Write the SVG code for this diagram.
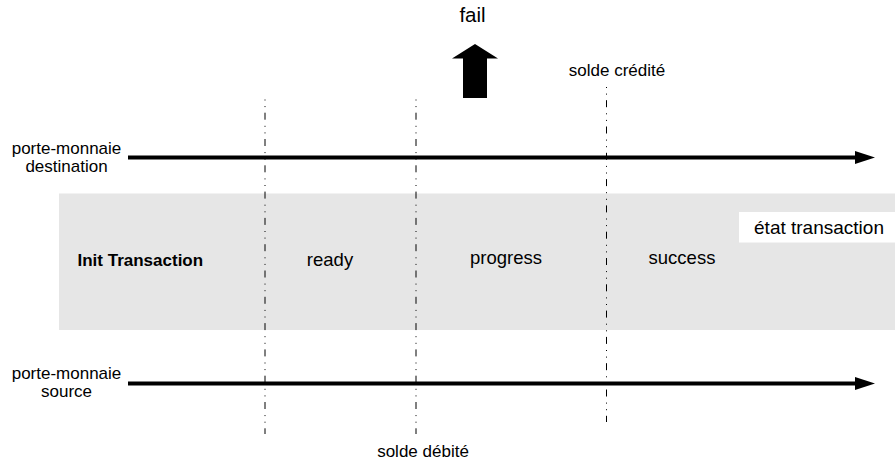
<svg xmlns="http://www.w3.org/2000/svg" width="895" height="463" viewBox="0 0 895 463">
  <style>
    text { font-family: "Liberation Sans", Arial, sans-serif; fill: #000; }
    .lbl { font-size: 17px; text-anchor: middle; }
    .state { font-size: 18.5px; text-anchor: middle; }
    .bold { font-size: 17px; font-weight: bold; }
    .vline { stroke: #000; stroke-width: 1; fill: none; stroke-dasharray: 1 5.6 1 5.6 7 6.1; }
    .timeline { stroke: #000; stroke-width: 4; fill: none; marker-end: url(#head); }
  </style>
  <defs>
    <marker id="head" markerUnits="userSpaceOnUse" markerWidth="20" markerHeight="14" refX="0" refY="7" orient="auto" viewBox="0 0 20 14">
      <polygon points="0,0.5 20,7 0,13.5" fill="#000"/>
    </marker>
  </defs>
  <rect width="895" height="463" fill="#fff"/>

  <g id="band">
    <rect x="59" y="193.5" width="836" height="136.5" fill="#e6e6e6"/>
  </g>

  <g id="connectors">
    <line class="vline" x1="265" y1="99.5" x2="265" y2="434"/>
    <line class="vline" x1="416" y1="99.5" x2="416" y2="434"/>
    <line class="vline" x1="606.5" y1="87" x2="606.5" y2="422"/>
    <line class="timeline" x1="128" y1="157.5" x2="855" y2="157.5"/>
    <line class="timeline" x1="128" y1="383.5" x2="855" y2="383.5"/>
  </g>

  <g id="fail">
    <text x="472.5" y="22" font-size="20.5" text-anchor="middle">fail</text>
    <polygon points="475,44 498,58.5 487,58.5 487,98 463,98 463,58.5 452,58.5" fill="#000"/>
  </g>

  <g id="solde-credite">
    <text class="lbl" x="617" y="76">solde crédité</text>
  </g>
  <g id="solde-debite">
    <text class="lbl" x="423" y="457">solde débité</text>
  </g>

  <g id="pm-destination">
    <text class="lbl" x="66.5" y="154">porte-monnaie</text>
    <text class="lbl" x="66.5" y="172">destination</text>
  </g>
  <g id="pm-source">
    <text class="lbl" x="66.5" y="378.5">porte-monnaie</text>
    <text class="lbl" x="66.5" y="396.5">source</text>
  </g>

  <g id="init-transaction">
    <text class="bold" x="77.5" y="266">Init Transaction</text>
  </g>
  <g id="ready">
    <text class="state" x="330" y="265.5">ready</text>
  </g>
  <g id="progress">
    <text class="state" x="506" y="264">progress</text>
  </g>
  <g id="success">
    <text class="state" x="682" y="264">success</text>
  </g>
  <g id="etat-transaction">
    <rect x="739" y="212" width="156" height="30.5" fill="#fff"/>
    <text x="819" y="234" font-size="19" text-anchor="middle">état transaction</text>
  </g>
</svg>
